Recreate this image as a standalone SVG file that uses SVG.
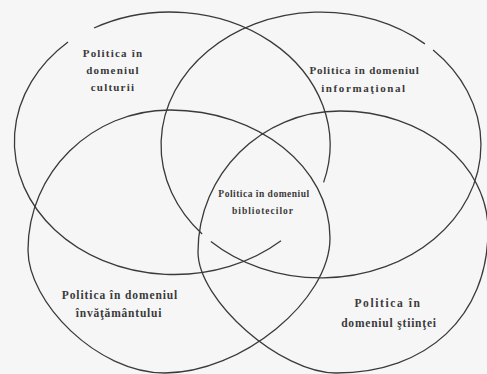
<svg xmlns="http://www.w3.org/2000/svg" width="487" height="374" viewBox="0 0 487 374">
<style>
.c{fill:none;stroke:#3a3a3a;stroke-width:1.3}
.t{font-family:"Liberation Serif","Times New Roman",serif;font-weight:bold;fill:#3a3a3a;text-anchor:middle}
</style>
<rect x="0" y="0" width="487" height="374" fill="#f6f6f6"/>
<g id="culturii">
<path class="c" d="M 94,28 A 160 133 0 0 1 323.6,182.4 M 281,240.8 A 160 133 0 1 1 68,42"/>
<text class="t" font-size="11" letter-spacing="1.2"><tspan x="113" y="57">Politica în</tspan><tspan x="113" y="74">domeniul</tspan><tspan x="113" y="91">culturii</tspan></text>
</g>
<g id="informational">
<path class="c" d="M 433.1,50.1 A 160 133 0 0 1 434.1,239 A 160 133 0 0 1 210.9,241.5 M 202.1,234 A 160 133 0 0 1 207.9,51 A 160 133 0 0 1 424.9,43.9"/>
<text class="t" font-size="11" letter-spacing="0.8"><tspan x="364.5" y="74">Politica în domeniul</tspan><tspan x="364" y="92" letter-spacing="1.6">informaţional</tspan></text>
</g>
<g id="invatamantului">
<path class="c" d="M170,110 C258.4,110 330,167.3 330,238 C330,300.6 240.9,373 165,373 C96.5,373 28,301.7 28,250 C28,172.7 91.6,110 170,110 Z"/>
<text class="t" font-size="11.5" letter-spacing="0.9"><tspan x="120" y="299">Politica în domeniul</tspan><tspan x="119" y="317" letter-spacing="0.8">învăţământului</tspan></text>
</g>
<g id="stiintei">
<path class="c" d="M340,111 C422.8,111 488,164.3 488,230 C488,316.4 427.2,373 336,373 C280.8,373 198,300.4 198,252 C198,174.1 261.6,111 340,111 Z"/>
<text class="t" font-size="11.5" letter-spacing="1.6"><tspan x="388" y="307">Politica în</tspan><tspan x="389" y="327" letter-spacing="0.8">domeniul ştiinţei</tspan></text>
</g>
<g id="bibliotecilor">
<text class="t" font-size="9.5" letter-spacing="0.5"><tspan x="264" y="197">Politica în domeniul</tspan><tspan x="263" y="214" letter-spacing="1">bibliotecilor</tspan></text>
</g>
</svg>
